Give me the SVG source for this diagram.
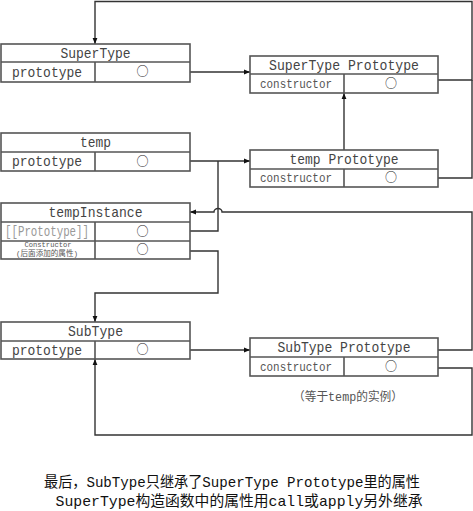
<svg xmlns="http://www.w3.org/2000/svg" width="473" height="511" viewBox="0 0 473 511">
<style>
.box{fill:#fff;stroke:#555;stroke-width:1.6}
.ln{stroke:#555;stroke-width:1.6;fill:none}
.con{stroke:#333;stroke-width:1.4;fill:none}
.hd{font-family:"Liberation Mono","Noto Sans CJK SC",monospace;font-size:15px;fill:#444;text-anchor:middle}
.lb{font-family:"Liberation Mono","Noto Sans CJK SC",monospace;font-size:15px;fill:#444;text-anchor:middle}
.cs{font-family:"Liberation Mono","Noto Sans CJK SC",monospace;font-size:12px;fill:#555;text-anchor:middle}
.gr{fill:#999}
.sm{font-family:"Liberation Mono","Noto Sans CJK SC",monospace;font-size:8px;fill:#555;text-anchor:middle}
.o{font-family:"Noto Sans CJK SC",sans-serif;font-size:12px;fill:#222;text-anchor:middle}
.nt{font-family:"Liberation Mono","Noto Sans CJK SC",monospace;font-size:12px;fill:#555;text-anchor:middle}
.bt{font-family:"Liberation Mono","Noto Sans CJK SC",monospace;font-size:15px;fill:#111;text-anchor:middle}
</style>
<defs>
<marker id="arr" viewBox="0 0 10 10" refX="10" refY="5" markerWidth="6" markerHeight="6" markerUnits="userSpaceOnUse" orient="auto"><path d="M0,1 L10,5 L0,9 z" fill="#111"/></marker>
</defs>

<g id="connectors">
<path class="con" d="M438,80 H472 V1.5 H95 V44" marker-end="url(#arr)"/>
<path class="con" d="M438,178 H472 V80"/>
<path class="con" d="M190,72 H250" marker-end="url(#arr)"/>
<path class="con" d="M190,161 H250" marker-end="url(#arr)"/>
<path class="con" d="M344,150 V93" marker-end="url(#arr)"/>
<path class="con" d="M190,231 H218 V161"/>
<path class="con" d="M438,350 H472 V212 H222 A4,3.5 0 0 0 214,212 H190" marker-end="url(#arr)"/>
<path class="con" d="M190,251 H218 V293 H95 V322" marker-end="url(#arr)"/>
<path class="con" d="M190,350 H250" marker-end="url(#arr)"/>
<path class="con" d="M438,368 H472 V435 H95 V359" marker-end="url(#arr)"/>
</g>

<g id="SuperType">
<rect class="box" x="1" y="44" width="189" height="38"/>
<path class="ln" d="M1,62 H190 M95,62 V82"/>
<text class="hd" x="95.5" y="58" textLength="70" lengthAdjust="spacingAndGlyphs">SuperType</text>
<text class="lb" x="47" y="77" textLength="70" lengthAdjust="spacingAndGlyphs">prototype</text>
<text class="o" x="142.5" y="76">○</text>
</g>

<g id="SuperTypePrototype">
<rect class="box" x="250" y="56" width="188" height="37"/>
<path class="ln" d="M250,74 H438 M344,74 V93"/>
<text class="hd" x="344" y="70" textLength="150" lengthAdjust="spacingAndGlyphs">SuperType Prototype</text>
<text class="cs" x="296" y="88" textLength="72" lengthAdjust="spacingAndGlyphs">constructor</text>
<text class="o" x="391" y="88">○</text>
</g>

<g id="temp">
<rect class="box" x="1" y="133" width="189" height="38"/>
<path class="ln" d="M1,152 H190 M95,152 V171"/>
<text class="hd" x="95.5" y="147" textLength="31" lengthAdjust="spacingAndGlyphs">temp</text>
<text class="lb" x="47" y="166" textLength="70" lengthAdjust="spacingAndGlyphs">prototype</text>
<text class="o" x="142.5" y="165.5">○</text>
</g>

<g id="tempPrototype">
<rect class="box" x="250" y="150" width="188" height="37"/>
<path class="ln" d="M250,169 H438 M344,169 V187"/>
<text class="hd" x="344" y="164" textLength="109" lengthAdjust="spacingAndGlyphs">temp Prototype</text>
<text class="cs" x="296" y="182" textLength="72" lengthAdjust="spacingAndGlyphs">constructor</text>
<text class="o" x="391" y="182">○</text>
</g>

<g id="tempInstance">
<rect class="box" x="1" y="203" width="189" height="56"/>
<path class="ln" d="M1,222 H190 M1,241 H190 M95,222 V259"/>
<text class="hd" x="95.5" y="217" textLength="94" lengthAdjust="spacingAndGlyphs">tempInstance</text>
<text class="lb gr" x="47" y="236" textLength="84" lengthAdjust="spacingAndGlyphs">[[Prototype]]</text>
<text class="sm" x="48" y="247" textLength="47" lengthAdjust="spacingAndGlyphs">Constructor</text>
<text class="sm" x="47" y="256" textLength="62" lengthAdjust="spacingAndGlyphs">(后面添加的属性)</text>
<text class="o" x="142.5" y="235.5">○</text>
<text class="o" x="142.5" y="254">○</text>
</g>

<g id="SubType">
<rect class="box" x="1" y="322" width="189" height="37"/>
<path class="ln" d="M1,341 H190 M95,341 V359"/>
<text class="hd" x="95.5" y="336" textLength="55" lengthAdjust="spacingAndGlyphs">SubType</text>
<text class="lb" x="47" y="355" textLength="70" lengthAdjust="spacingAndGlyphs">prototype</text>
<text class="o" x="142.5" y="354">○</text>
</g>

<g id="SubTypePrototype">
<rect class="box" x="250" y="338" width="188" height="38"/>
<path class="ln" d="M250,357 H438 M344,357 V376"/>
<text class="hd" x="344" y="352" textLength="133" lengthAdjust="spacingAndGlyphs">SubType Prototype</text>
<text class="cs" x="296" y="371" textLength="72" lengthAdjust="spacingAndGlyphs">constructor</text>
<text class="o" x="391" y="371">○</text>
</g>

<text class="nt" x="348" y="401" textLength="110" lengthAdjust="spacingAndGlyphs">（等于temp的实例）</text>

<text class="bt" x="232" y="487" textLength="376" lengthAdjust="spacingAndGlyphs">最后，SubType只继承了SuperType Prototype里的属性</text>
<text class="bt" x="239" y="506" textLength="367" lengthAdjust="spacingAndGlyphs">SuperType构造函数中的属性用call或apply另外继承</text>
</svg>
